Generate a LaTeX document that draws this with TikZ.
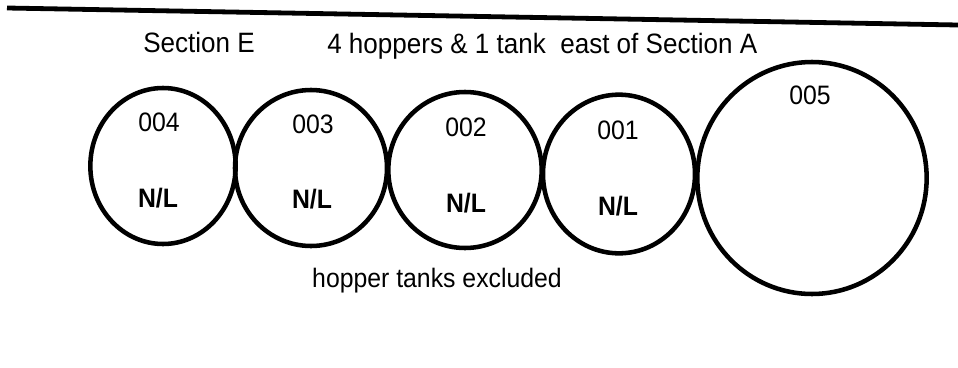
\documentclass[tikz,border=0pt]{standalone}
\usepackage{fontspec}
\setmainfont{Liberation Sans}[FakeStretch=0.93]
\usetikzlibrary{shapes.geometric}
\begin{document}
\begin{tikzpicture}[x=0.75pt,y=-0.75pt,
  tank/.style={draw, ellipse, line width=3.4pt, inner sep=0pt},
  lbl/.style={font=\fontsize{20}{24}\selectfont, inner sep=0pt, anchor=base},
  toplbl/.style={font=\fontsize{21}{25}\selectfont, inner sep=0pt, anchor=base west},
  nl/.style={font=\fontsize{20}{24}\selectfont\bfseries, inner sep=0pt, anchor=base}]
\useasboundingbox[fill=white] (0,0) rectangle (958,368);
\coordinate (la) at (7,8);
\coordinate (lb) at (958,25);
\draw[line width=3.6pt] (la) -- (lb);
\node[tank, minimum width=109pt, minimum height=117pt] (c004) at (163,166) {};
\node[tank, minimum width=114pt, minimum height=117pt] (c003) at (311,168) {};
\node[tank, minimum width=115pt, minimum height=117pt] (c002) at (465,170) {};
\node[tank, minimum width=114pt, minimum height=119pt] (c001) at (619,174) {};
\node[tank, minimum width=172pt, minimum height=174pt] (c005) at (812,178) {};
\node[lbl] (t004) at (159,131) {004};
\node[lbl] (t003) at (313,133) {003};
\node[lbl] (t002) at (466,136) {002};
\node[lbl] (t001) at (618,139) {001};
\node[lbl] (t005) at (810,104) {005};
\node[nl] (n004) at (158,207) {N/L};
\node[nl] (n003) at (312,208) {N/L};
\node[nl] (n002) at (466,212) {N/L};
\node[nl] (n001) at (618,215) {N/L};
\node[toplbl] (secE) at (143,52) {Section E};
\node[toplbl] (hop) at (327,53) {4 hoppers \& 1 tank\ \ east of Section A};
\node[lbl] (excl) at (437,287) {hopper tanks excluded};
\end{tikzpicture}
\end{document}
